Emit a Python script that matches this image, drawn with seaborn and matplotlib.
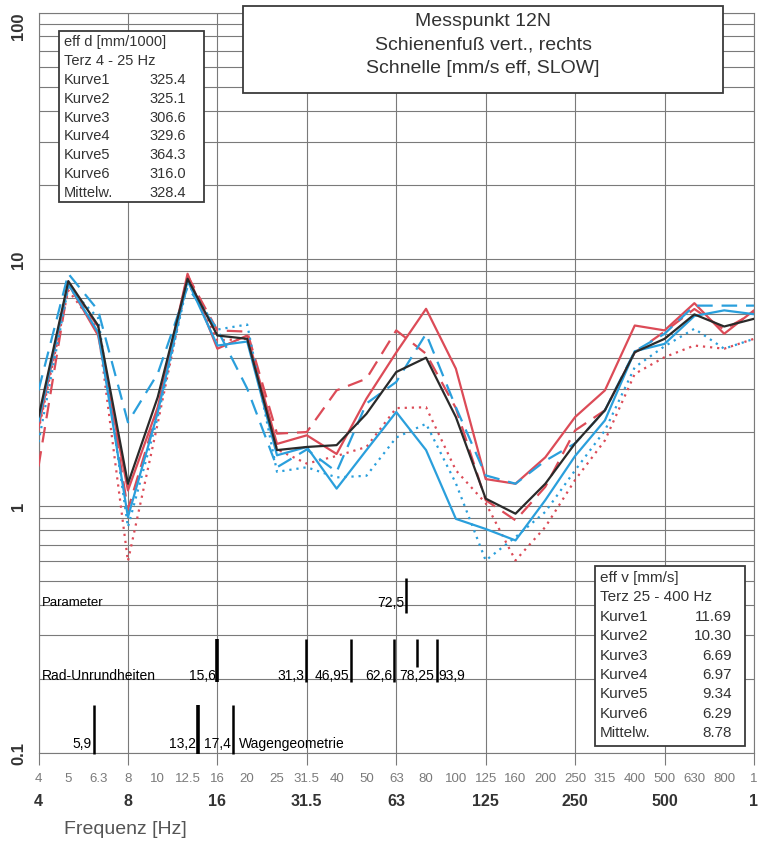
import numpy as np
import pandas as pd
import matplotlib
matplotlib.use("Agg")
import matplotlib.pyplot as plt
import seaborn as sns
from matplotlib.patches import Rectangle
from matplotlib.ticker import FixedLocator, NullFormatter, LogLocator, FixedFormatter

# ---------------- data ----------------
bands = ["4", "5", "6.3", "8", "10", "12.5", "16", "20", "25", "31.5", "40", "50",
         "63", "80", "100", "125", "160", "200", "250", "315", "400", "500", "630",
         "800", "1"]
octave_labels = ["4", "8", "16", "31.5", "63", "125", "250", "500", "1"]
octave_idx = [0, 3, 6, 9, 12, 15, 18, 21, 24]

kurve1 = [2.09, 7.97, 4.92, 1.16, 2.52, 8.75, 4.35, 4.92, 1.79, 1.94, 1.63, 2.73,
          4.20, 6.31, 3.61, 1.29, 1.235, 1.58, 2.30, 2.95, 5.40, 5.16, 6.65, 5.00, 6.22]
kurve2 = [1.45, 7.85, 5.35, 0.97, 2.45, 8.60, 5.16, 5.10, 1.97, 2.00, 2.95, 3.29,
          5.16, 4.15, 2.50, 1.06, 0.878, 1.20, 2.03, 2.45, 4.20, 5.10, 6.30, 5.20, 6.10]
kurve3 = [2.20, 7.95, 5.07, 0.905, 2.40, 8.20, 4.48, 4.65, 1.61, 1.74, 1.18, 1.69,
          2.41, 1.69, 0.89, 0.81, 0.728, 1.06, 1.60, 2.23, 4.25, 4.55, 5.90, 6.22, 6.00]
kurve4 = [2.03, 7.49, 5.20, 0.60, 2.17, 8.40, 4.70, 4.77, 1.70, 1.49, 1.60, 1.74,
          2.50, 2.52, 1.40, 1.03, 0.604, 0.825, 1.28, 1.85, 3.44, 4.02, 4.48, 4.35, 4.77]
kurve5 = [2.95, 8.75, 6.22, 2.19, 3.45, 7.73, 5.20, 3.00, 1.44, 1.70, 1.38, 2.61,
          3.19, 5.00, 2.52, 1.335, 1.235, 1.53, 1.80, 2.45, 4.25, 5.00, 6.50, 6.50, 6.50]
kurve6 = [1.82, 7.70, 5.80, 0.825, 2.30, 8.00, 5.20, 5.45, 1.38, 1.44, 1.31, 1.33,
          1.90, 2.16, 1.24, 0.604, 0.751, 0.95, 1.40, 2.03, 3.66, 4.45, 5.24, 4.35, 4.77]
mittelw = [2.30, 8.17, 5.40, 1.235, 2.77, 8.35, 4.92, 4.77, 1.69, 1.74, 1.77, 2.37,
           3.50, 4.00, 2.30, 1.075, 0.934, 1.235, 1.80, 2.45, 4.21, 4.77, 5.99, 5.35, 5.75]

box_labels = ["Kurve1", "Kurve2", "Kurve3", "Kurve4", "Kurve5", "Kurve6", "Mittelw."]
eff_d_vals = ["325.4", "325.1", "306.6", "329.6", "364.3", "316.0", "328.4"]
eff_v_vals = ["11.69", "10.30", "6.69", "6.97", "9.34", "6.29", "8.78"]

title_lines = ["Messpunkt 12N", "Schienenfuß vert., rechts", "Schnelle [mm/s eff, SLOW]"]

# annotation markers (positions, in band-index units)
param_labels = ["72,5"]
param_pos = [12.32]
rad_labels = ["15,6", "31,3", "46,95", "62,6", "78,25", "93,9"]
rad_pos = [6.0, 8.96, 10.48, 11.91, 12.68, 13.36]
wagen_labels = ["5,9", "13,2", "17,4"]
wagen_pos = [1.85, 5.34, 6.51]

# ---------------- style ----------------
sns.set_style("white")
plt.rcParams['font.family'] = ['Liberation Sans', 'DejaVu Sans']

RED = "#dc4b57"
BLUE = "#2a9fdc"
BLACK = "#2a2a2a"
TXT = "#333333"
GRID = "#7a7a7a"

W, H = 758, 843
fig = plt.figure(figsize=(W / 100, H / 100), dpi=100)
ax = fig.add_axes([38.5 / W, 1 - 753.3 / H, (754 - 38.5) / W, (753.3 - 12.5) / H])

x = np.arange(len(bands))
series = [
    (kurve1, RED, "-"),
    (kurve2, RED, (0, (7, 4))),
    (kurve4, RED, (0, (1, 2.2))),
    (kurve3, BLUE, "-"),
    (kurve5, BLUE, (0, (7, 4))),
    (kurve6, BLUE, (0, (1, 2.2))),
    (mittelw, BLACK, "-"),
]
for vals, col, ls in series:
    df = pd.DataFrame({"x": x, "y": vals})
    sns.lineplot(data=df, x="x", y="y", color=col, linestyle=ls, linewidth=1.6,
                 ax=ax, legend=False, zorder=3)

ax.set_yscale("log")
ax.set_xlim(0, 24)
ax.set_ylim(0.1, 100)
ax.set_xlabel("")
ax.set_ylabel("")

# x ticks: bold octave row + gray third-octave row
ax.xaxis.set_major_locator(FixedLocator(octave_idx))
ax.xaxis.set_major_formatter(FixedFormatter(octave_labels))
ax.xaxis.set_minor_locator(FixedLocator(list(x)))
ax.xaxis.set_minor_formatter(FixedFormatter(bands))
ax.xaxis.remove_overlapping_locs = False
ax.tick_params(axis="x", which="major", length=8.5, width=0.8, color=GRID,
               pad=21, direction="out", bottom=True, labelsize=11.5, labelcolor=TXT)
ax.tick_params(axis="x", which="minor", length=0, pad=14, bottom=True,
               labelsize=9.5, labelcolor="#7a7a7a")
for lbl in ax.get_xticklabels(which="major"):
    lbl.set_fontweight("bold")

# y ticks
ax.yaxis.set_major_locator(FixedLocator([0.1, 1, 10, 100]))
ax.set_yticklabels(["0.1", "1", "10", "100"], rotation=90, fontweight="bold",
                   fontsize=12, color=TXT, va="center")
ax.yaxis.set_minor_locator(LogLocator(base=10, subs=np.arange(2, 10)))
ax.yaxis.set_minor_formatter(NullFormatter())
ax.tick_params(axis="y", which="both", length=0, pad=9)
for lbl in ax.get_yticklabels():
    if lbl.get_text() == "100":
        lbl.set_va("top")

ax.grid(True, which="major", axis="x", color=GRID, lw=0.8)
ax.grid(True, which="both", axis="y", color=GRID, lw=0.8)
ax.set_axisbelow(True)
for s in ax.spines.values():
    s.set_visible(True)
    s.set_color(GRID)
    s.set_linewidth(0.8)

# ---------------- annotations ----------------
ax.text(0.12, 0.405, "Parameter", fontsize=9.5, color="black", va="center", ha="left")
ax.vlines(param_pos, 0.37, 0.511, color="black", lw=1.8, zorder=4)
for lab, p in zip(param_labels, param_pos):
    ax.text(p - 0.05, 0.405, lab, fontsize=10, ha="right", va="center", color="black")

ax.text(0.12, 0.2056, "Rad-Unrundheiten", fontsize=10, color="black", va="center", ha="left")
for lab, p in zip(rad_labels, rad_pos):
    if lab == "78,25":
        ax.vlines(p, 0.2236, 0.2893, color="black", lw=1.8, zorder=4)
        ax.text(p, 0.2056, lab, fontsize=10, ha="center", va="center", color="black")
    elif lab == "93,9":
        ax.vlines(p, 0.1943, 0.2893, color="black", lw=1.8, zorder=4)
        ax.text(p + 0.06, 0.2056, lab, fontsize=10, ha="left", va="center", color="black")
    else:
        ax.vlines(p, 0.1943, 0.2893, color="black",
                  lw=2.6 if lab == "15,6" else 1.8, zorder=4)
        ax.text(p - 0.05, 0.2056, lab, fontsize=10, ha="right", va="center", color="black")

for lab, p in zip(wagen_labels, wagen_pos):
    ax.vlines(p, 0.099, 0.1564, color="black", lw=2.6 if lab == "13,2" else 1.8,
              zorder=4, clip_on=False)
    ax.text(p - 0.07, 0.1088, lab, fontsize=10, ha="right", va="center", color="black")
ax.text(wagen_pos[-1] + 0.2, 0.1088, "Wagengeometrie", fontsize=10, ha="left",
        va="center", color="black")

# ---------------- boxes ----------------
def fx(px):
    return px / W

def fy(py):
    return 1 - py / H

def add_box(x0, y0, x1, y1, lw=1.3):
    fig.add_artist(Rectangle((fx(x0), fy(y1)), fx(x1) - fx(x0), fy(y0) - fy(y1),
                             transform=fig.transFigure, facecolor="white",
                             edgecolor="#3a3a3a", lw=lw, zorder=5))

# title box
add_box(242.7, 6, 723.3, 92.7)
for i, t in enumerate(title_lines):
    fig.text(fx(483), fy(21.7 + 23.3 * i), t, fontsize=14, color=TXT,
             ha="center", va="center", zorder=6)

# left box (eff d)
add_box(59.3, 30.7, 204.3, 202.3)
row0, dr = 41.7, 18.95
fig.text(fx(64), fy(row0), "eff d [mm/1000]", fontsize=10.5, color=TXT, va="center", zorder=6)
fig.text(fx(64), fy(row0 + dr), "Terz 4 - 25 Hz", fontsize=10.5, color=TXT, va="center", zorder=6)
for i, (lab, v) in enumerate(zip(box_labels, eff_d_vals)):
    yy = fy(row0 + dr * (i + 2))
    fig.text(fx(64), yy, lab, fontsize=10.5, color=TXT, va="center", zorder=6)
    fig.text(fx(185.7), yy, v, fontsize=10.5, color=TXT, va="center", ha="right", zorder=6)

# right box (eff v)
add_box(595, 566, 745, 746)
row0, dr = 578, 19.4
fig.text(fx(600), fy(row0), "eff v [mm/s]", fontsize=11, color=TXT, va="center", zorder=6)
fig.text(fx(600), fy(row0 + dr), "Terz 25 - 400 Hz", fontsize=11, color=TXT, va="center", zorder=6)
for i, (lab, v) in enumerate(zip(box_labels, eff_v_vals)):
    yy = fy(row0 + dr * (i + 2))
    fig.text(fx(600), yy, lab, fontsize=11, color=TXT, va="center", zorder=6)
    fig.text(fx(732), yy, v, fontsize=11, color=TXT, va="center", ha="right", zorder=6)

fig.text(fx(64), fy(830), "Frequenz [Hz]", fontsize=14, color="#555555", va="center", ha="left")

fig.savefig("out.png", dpi=100)
